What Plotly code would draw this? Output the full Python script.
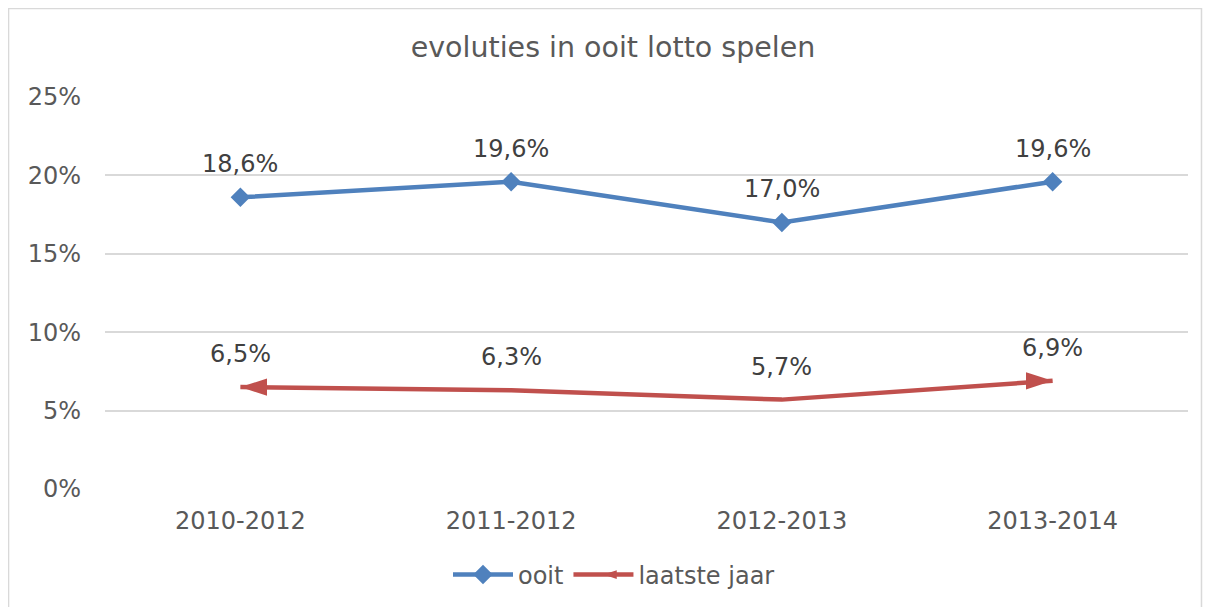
import plotly.graph_objects as go

categories = ["2010-2012", "2011-2012", "2012-2013", "2013-2014"]
ooit = [18.6, 19.6, 17.0, 19.6]
laatste_jaar = [6.5, 6.3, 5.7, 6.9]
series_names = ["ooit", "laatste jaar"]
title_text = "evoluties in ooit lotto spelen"
y_ticks = [0, 5, 10, 15, 20, 25]

BLUE = "#4F81BD"
RED = "#C0504D"
FONT = "DejaVu Sans, Verdana, sans-serif"

def fmt(v):
    return f"{v:.1f}".replace(".", ",") + "%"

fig = go.Figure()
fig.add_trace(go.Scatter(
    x=categories, y=ooit, name=series_names[0], mode="lines+markers",
    line=dict(color=BLUE, width=4.5),
    marker=dict(symbol="diamond", size=15, color=BLUE, opacity=1),
))
n = len(laatste_jaar)
fig.add_trace(go.Scatter(
    x=categories, y=laatste_jaar, name=series_names[1], mode="lines+markers",
    line=dict(color=RED, width=4.5, backoff=0),
    marker=dict(symbol=["arrow"] * n,
                angle=[-90] + [0] * (n - 2) + [90],
                angleref="up",
                size=[28] + [0] * (n - 2) + [28],
                color=RED, opacity=1, line=dict(width=0, color=RED)),
))

annotations = []
for series in (ooit, laatste_jaar):
    for c, v in zip(categories, series):
        annotations.append(dict(
            x=c, y=v, text=fmt(v), showarrow=False, yshift=33,
            font=dict(family=FONT, size=24, color="#404040"),
            xanchor="center", yanchor="middle",
        ))

# page body has an 8px margin, so figure coords = screen coords - 8
W, H = 1206, 599
ml, mr, mt, mb = 97, 25.5, 89, 118
pw, ph = W - ml - mr, H - mt - mb
def px2paperx(px):
    return (px - ml) / pw
def py2papery(py):
    return (H - mb - py) / ph

fig.add_shape(type="rect", xref="paper", yref="paper",
              x0=px2paperx(0.5), x1=px2paperx(1194),
              y0=py2papery(620), y1=py2papery(0.5),
              line=dict(color="#D9D9D9", width=1.5), fillcolor="rgba(0,0,0,0)",
              layer="below")

fig.update_layout(
    width=W, height=H,
    margin=dict(l=ml, r=mr, t=mt, b=mb, pad=0),
    paper_bgcolor="white", plot_bgcolor="white",
    title=dict(text=title_text, x=(613 - 8) / W, xref="container", xanchor="center",
               y=1 - 39 / H, yanchor="middle",
               font=dict(family=FONT, size=28.5, color="#595959")),
    font=dict(family=FONT, color="#595959"),
    xaxis=dict(type="category", range=[-0.5, len(categories) - 0.5],
               showgrid=False, zeroline=False, showline=False, ticks="",
               tickfont=dict(family=FONT, size=24, color="#595959"), ticklabelstandoff=15),
    yaxis=dict(range=[0, 25], tickvals=y_ticks, ticktext=[f"{t}%" for t in y_ticks],
               showgrid=True, gridcolor="#D9D9D9", gridwidth=1.5, zeroline=False,
               showline=False, ticks="",
               tickfont=dict(family=FONT, size=24, color="#595959"), ticklabelstandoff=23),
    legend=dict(orientation="h", x=(614 - 8) / W, xanchor="center", xref="container",
                y=1 - 567 / H, yref="container", yanchor="middle",
                font=dict(family=FONT, size=24, color="#595959"),
                itemwidth=60),
    showlegend=True,
    annotations=annotations,
)

fig.write_html("out.html")
